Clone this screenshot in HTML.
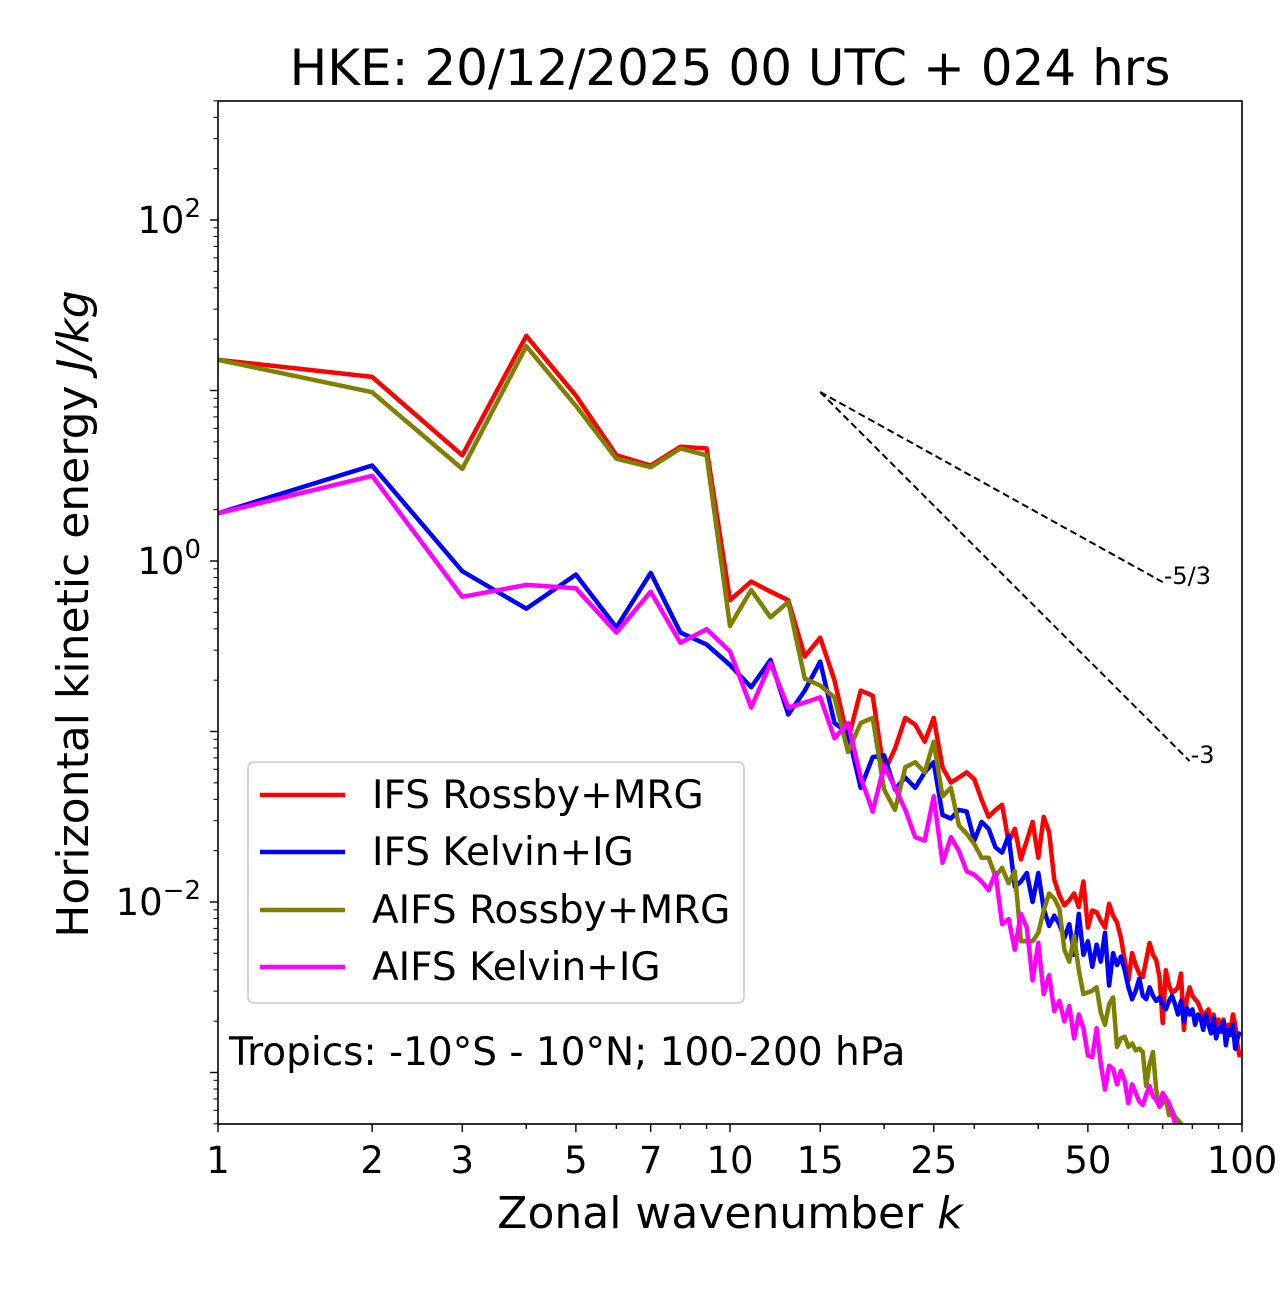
<!DOCTYPE html>
<html><head><meta charset="utf-8"><style>
body{margin:0;background:#fff}
svg text{font-family:"DejaVu Sans","Liberation Sans",sans-serif;fill:#000}
</style></head><body>
<svg id="chart" width="1280" height="1288" xmlns="http://www.w3.org/2000/svg">
<rect width="1280" height="1288" fill="#fff"/>
<text x="730" y="85" font-size="50" text-anchor="middle">HKE: 20/12/2025 00 UTC + 024 hrs</text>
<defs><clipPath id="clip"><rect x="218" y="101" width="1024" height="1023"/></clipPath></defs>
<g id="ticks"></g>
<g id="series" clip-path="url(#clip)"></g>
<rect x="218" y="101" width="1024" height="1023" fill="none" stroke="#000" stroke-width="1.6"/>
<text x="730" y="1228" font-size="44" text-anchor="middle">Zonal wavenumber <tspan font-style="italic">k</tspan></text>
<text transform="translate(88,614) rotate(-90)" font-size="44" text-anchor="middle">Horizontal kinetic energy <tspan font-style="italic">J/kg</tspan></text>
<g>
<rect x="248" y="762" width="496" height="241" rx="6" fill="#fff" fill-opacity="0.8" stroke="#ccc" stroke-width="1.6"/>
<g><line x1="260" y1="795" x2="345" y2="795" stroke="#ff0000" stroke-width="4.5"/><text x="372" y="808" font-size="39">IFS Rossby+MRG</text></g>
<g><line x1="260" y1="852" x2="345" y2="852" stroke="#0000ff" stroke-width="4.5"/><text x="372" y="865" font-size="39">IFS Kelvin+IG</text></g>
<g><line x1="260" y1="910" x2="345" y2="910" stroke="#808000" stroke-width="4.5"/><text x="372" y="923" font-size="39">AIFS Rossby+MRG</text></g>
<g><line x1="260" y1="967" x2="345" y2="967" stroke="#ff00ff" stroke-width="4.5"/><text x="372" y="980" font-size="39">AIFS Kelvin+IG</text></g>
</g>
<text x="229" y="1065" font-size="39">Tropics: -10°S - 10°N; 100-200 hPa</text>
</svg>
<script>
// log10 of energy for k = 1..N
const ifsRossbyLog=[1.18,1.08,0.62,1.32,0.97,0.62,0.56,0.67,0.66,-0.23,-0.12,-0.18,-0.23,-0.56,-0.45,-0.70,-1.05,-0.76,-0.79,-1.24,-1.1,-0.92,-0.96,-1.06,-0.92,-1.21,-1.30,-1.27,-1.24,-1.28,-1.40,-1.50,-1.46,-1.43,-1.65,-1.57,-1.75,-1.64,-1.53,-1.74,-1.50,-1.59,-1.87,-1.96,-2.02,-1.99,-1.95,-2.03,-1.88,-2.15,-2.05,-2.06,-2.11,-2.15,-2.01,-2.08,-2.12,-2.21,-2.34,-2.46,-2.30,-2.37,-2.42,-2.44,-2.34,-2.24,-2.31,-2.34,-2.44,-2.71,-2.40,-2.49,-2.53,-2.52,-2.50,-2.42,-2.75,-2.57,-2.50,-2.55,-2.57,-2.59,-2.63,-2.67,-2.65,-2.63,-2.69,-2.66,-2.72,-2.69,-2.75,-2.69,-2.78,-2.72,-2.75,-2.66,-2.72,-2.84,-2.91];
const ifsKelvinLog=[0.28,0.56,-0.06,-0.28,-0.08,-0.39,-0.07,-0.42,-0.49,-0.61,-0.74,-0.58,-0.90,-0.76,-0.59,-0.95,-1.01,-1.33,-1.15,-1.14,-1.34,-1.27,-1.33,-1.24,-1.18,-1.49,-1.51,-1.46,-1.47,-1.64,-1.53,-1.57,-1.68,-1.71,-1.61,-1.91,-1.88,-1.83,-2.0,-1.83,-2.04,-2.14,-2.08,-2.13,-2.21,-2.13,-2.31,-2.07,-2.31,-2.23,-2.38,-2.25,-2.35,-2.18,-2.49,-2.30,-2.37,-2.32,-2.40,-2.50,-2.57,-2.52,-2.45,-2.55,-2.57,-2.50,-2.55,-2.58,-2.56,-2.60,-2.63,-2.58,-2.55,-2.60,-2.66,-2.58,-2.70,-2.62,-2.66,-2.63,-2.72,-2.66,-2.68,-2.75,-2.66,-2.72,-2.77,-2.68,-2.80,-2.74,-2.76,-2.70,-2.84,-2.75,-2.78,-2.72,-2.86,-2.80,-2.76];
const aifsRossbyLog=[1.18,0.99,0.54,1.26,0.91,0.60,0.55,0.66,0.62,-0.38,-0.17,-0.33,-0.24,-0.69,-0.73,-0.80,-1.12,-0.95,-0.92,-1.34,-1.46,-1.21,-1.18,-1.24,-1.06,-1.38,-1.33,-1.55,-1.60,-1.66,-1.74,-1.74,-1.85,-1.80,-1.89,-1.82,-2.23,-2.23,-2.23,-2.18,-2.05,-1.95,-1.98,-2.04,-2.28,-2.35,-2.20,-2.40,-2.54,-2.53,-2.52,-2.50,-2.65,-2.72,-2.60,-2.56,-2.85,-2.80,-2.79,-2.85,-2.83,-2.87,-2.86,-2.88,-3.08,-2.95,-2.88,-3.10,-3.20,-3.18,-3.15,-3.25,-3.22,-3.26,-3.28,-3.30,-3.33];
const aifsKelvinLog=[0.28,0.50,-0.21,-0.14,-0.16,-0.42,-0.18,-0.48,-0.40,-0.53,-0.86,-0.60,-0.86,-0.83,-0.80,-1.04,-0.95,-1.27,-1.47,-1.20,-1.33,-1.46,-1.62,-1.64,-1.38,-1.77,-1.62,-1.70,-1.82,-1.84,-1.88,-1.93,-1.83,-2.13,-2.10,-2.28,-2.07,-2.15,-2.46,-2.24,-2.54,-2.43,-2.64,-2.58,-2.70,-2.61,-2.80,-2.66,-2.74,-2.90,-2.91,-2.74,-2.95,-3.10,-2.96,-2.98,-3.07,-2.99,-3.05,-3.18,-3.07,-3.12,-3.17,-3.19,-3.13,-3.08,-3.14,-3.16,-3.20,-3.12,-3.15,-3.18,-3.23,-3.30,-3.35];
const xTickLabels=[1,2,3,5,7,10,15,25,50,100];
const refK=[15,70,79];
const refE0=9.8;

const NS='http://www.w3.org/2000/svg';
const X0=218,X1=1242,Y0=101,Y1=1124;
function xs(k){return X0+(X1-X0)*Math.log10(k)/2;}
function ys(e){return 220+(2-Math.log10(e))*170.5;}
function mk(tag,attrs,parent){const el=document.createElementNS(NS,tag);for(const a in attrs)el.setAttribute(a,attrs[a]);parent.appendChild(el);return el;}
const ticks=document.getElementById('ticks');
for(let k=1;k<=100;k++){
  if(k>10&&k%10!==0&&k!==15&&k!==25)continue;
  const major=xTickLabels.includes(k);
  const t=mk('line',{x1:xs(k),x2:xs(k),y1:Y1,y2:Y1+(major?8:5),stroke:'#000','stroke-width':1.4},ticks);
  
  
}
xTickLabels.forEach(k=>{
  const t=mk('text',{x:xs(k),y:1173,'font-size':37,'text-anchor':'middle'},ticks);
  t.textContent=k;
  
  
});
for(let d=-4;d<=2;d++){
  for(let m=1;m<10;m++){
    const e=m*Math.pow(10,d);const y=ys(e);
    if(y<Y0-0.5||y>Y1+0.5)continue;
    const major=(m===1);
    const t=mk('line',{x1:X0,x2:X0-(major?8:4.5),y1:y,y2:y,stroke:'#000','stroke-width':major?1.4:1},ticks);
    
    
    if(major&&d%2===0){
      const tx=mk('text',{x:201,y:y+13,'font-size':37,'text-anchor':'end'},ticks);
      tx.innerHTML='10<tspan dy="-16" font-size="26">'+(d<0?'\u2212'+(-d):d)+'</tspan>';
      
      
    }
  }
}
const sg=document.getElementById('series');
function drawSeries(arr,color,name){
  const pts=arr.map((v,i)=>xs(i+1).toFixed(1)+','+ys(Math.pow(10,v)).toFixed(1)).join(' ');
  const p=mk('polyline',{points:pts,fill:'none',stroke:color,'stroke-width':4.5,'stroke-linejoin':'round'},sg);
  
  
}
drawSeries(ifsRossbyLog,'#ff0000','ifs-rossby-line');
drawSeries(ifsKelvinLog,'#0000ff','ifs-kelvin-line');
drawSeries(aifsRossbyLog,'#808000','aifs-rossby-line');
drawSeries(aifsKelvinLog,'#ff00ff','aifs-kelvin-line');
const svg=document.getElementById('chart');
[[-5/3,refK[1],'-5/3','slope-53-line'],[-3,refK[2],'-3','slope-3-line']].forEach(([s,k1,lab,nm])=>{
  const e1=refE0*Math.pow(k1/refK[0],s);
  const l=mk('line',{x1:xs(refK[0]),y1:ys(refE0),x2:xs(k1),y2:ys(e1),stroke:'#000','stroke-width':2,'stroke-dasharray':'7,4'},svg);
  
  
  const t=mk('text',{x:xs(k1)+1,y:ys(e1)+2,'font-size':24},svg);
  t.textContent=lab;
  
  
});
</script>
</body></html>
